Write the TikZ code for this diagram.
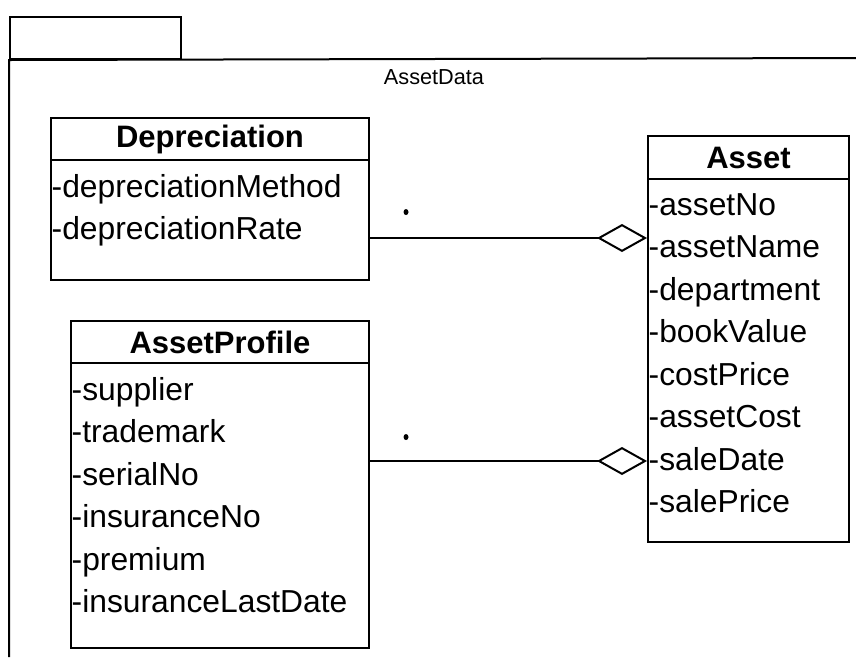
\documentclass[tikz,border=0pt]{standalone}
\usepackage{fontspec}
\setmainfont{Liberation Sans}
\usetikzlibrary{arrows.meta, positioning}

\tikzset{
  box/.style={draw, line width=2pt, inner sep=0pt, anchor=north west},
  classname/.style={box, anchor=north, minimum height=42pt, font=\fontsize{31}{37}\selectfont\bfseries},
  attrs/.style={anchor=north west, align=left, inner xsep=1.5pt, inner ysep=0pt, yshift=-13pt,
    font=\fontsize{31.8}{42.5}\selectfont},
  agg/.style={line width=2pt, -{Diamond[open, length=50pt, width=28pt, fill=white]}}
}

\begin{document}
\begin{tikzpicture}[x=1pt, y=-1pt]
  \useasboundingbox (0,0) rectangle (856,657);
  % package frame
  \node[box, minimum width=171pt, minimum height=42pt] (tab) at (9,16) {};
  \draw[line width=2pt] (9,657) -- (tab.south west) -- (856,58);
  \node[font=\fontsize{21.7}{26}\selectfont] (pkgname) at (434,77) {AssetData};

  % classes
  \node[box, minimum width=318pt, minimum height=162pt] (dep) at (50,117) {};
  \node[classname, minimum width=318pt] (depname) at (dep.north) {Depreciation};
  \node[attrs] (depattr) at (depname.south west) {-depreciationMethod\\-depreciationRate};

  \node[box, minimum width=298pt, minimum height=327pt] (prof) at (70,320) {};
  \node[classname, minimum width=298pt] (profname) at (prof.north) {AssetProfile};
  \node[attrs] (profattr) at (profname.south west) {-supplier\\-trademark\\-serialNo\\-insuranceNo\\-premium\\-insuranceLastDate};

  \node[box, minimum width=201pt, minimum height=406pt] (asset) at (647,135) {};
  \node[classname, minimum width=201pt, minimum height=43pt] (assetname) at (asset.north) {Asset};
  \node[attrs] (assetattr) at (assetname.south west) {-assetNo\\-assetName\\-department\\-bookValue\\-costPrice\\-assetCost\\-saleDate\\-salePrice};

  % aggregations
  \draw[agg] (dep.east |- 0,238) -- (asset.west |- 0,238);
  \draw[agg] (prof.east |- 0,461) -- (asset.west |- 0,461);
  \fill (406,212) ellipse (2.5pt and 3pt);
  \fill (406,437) ellipse (2.5pt and 3pt);
\end{tikzpicture}
\end{document}
